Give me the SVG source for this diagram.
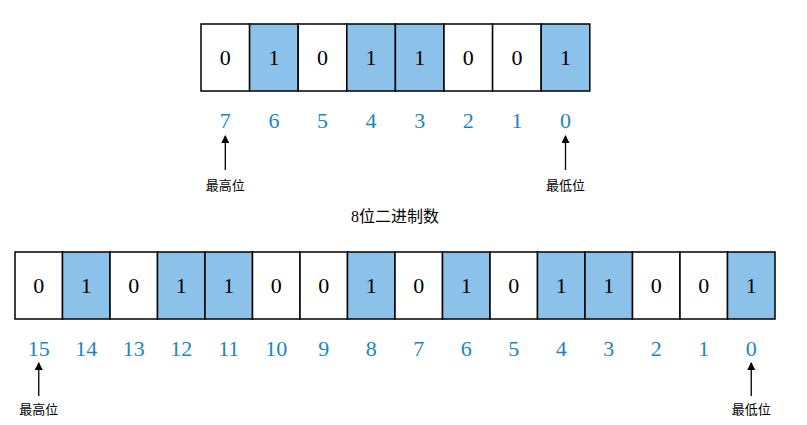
<svg xmlns="http://www.w3.org/2000/svg" width="807" height="425" viewBox="0 0 807 425">
<style>
.w{fill:#fff;stroke:#000;stroke-width:1.5}
.b{fill:#8cc2ea;stroke:#000;stroke-width:1.5}
.d{font-family:"Liberation Serif","DejaVu Serif",serif;font-size:22px;text-anchor:middle}
.i{font-family:"Liberation Serif","DejaVu Serif",serif;font-size:22px;text-anchor:middle;fill:#1a85c8}
.l{font-family:"Noto Sans CJK SC",sans-serif;font-size:13px;text-anchor:middle}
.t{font-family:"Liberation Serif","Noto Sans CJK SC",serif;font-size:16px;text-anchor:middle}
.a{stroke:#000;stroke-width:1.3;marker-end:url(#m)}
</style>
<defs><marker id="m" markerWidth="8" markerHeight="8" refX="7" refY="4" orient="auto" markerUnits="userSpaceOnUse"><path d="M0,0L8,4L0,8z" fill="#000"/></marker></defs>
<g id="row8">
<rect class="w" x="201" y="24" width="48.6" height="67"/><text class="d" x="225.3" y="65">0</text>
<rect class="b" x="249.6" y="24" width="48.6" height="67"/><text class="d" x="273.9" y="65">1</text>
<rect class="w" x="298.2" y="24" width="48.6" height="67"/><text class="d" x="322.5" y="65">0</text>
<rect class="b" x="346.8" y="24" width="48.6" height="67"/><text class="d" x="371.1" y="65">1</text>
<rect class="b" x="395.4" y="24" width="48.6" height="67"/><text class="d" x="419.7" y="65">1</text>
<rect class="w" x="444" y="24" width="48.6" height="67"/><text class="d" x="468.3" y="65">0</text>
<rect class="w" x="492.6" y="24" width="48.6" height="67"/><text class="d" x="516.9" y="65">0</text>
<rect class="b" x="541.2" y="24" width="48.6" height="67"/><text class="d" x="565.5" y="65">1</text>
<text class="i" x="225.3" y="128">7</text><text class="i" x="273.9" y="128">6</text><text class="i" x="322.5" y="128">5</text><text class="i" x="371.1" y="128">4</text><text class="i" x="419.7" y="128">3</text><text class="i" x="468.3" y="128">2</text><text class="i" x="516.9" y="128">1</text><text class="i" x="565.5" y="128">0</text>
<text class="l" x="225.3" y="190">最高位</text><text class="l" x="565.5" y="190">最低位</text>
</g>
<text id="title" class="t" x="395" y="222">8位二进制数</text>
<g id="row16">
<rect class="w" x="15" y="252" width="47.5" height="67"/><text class="d" x="38.75" y="293">0</text>
<rect class="b" x="62.5" y="252" width="47.5" height="67"/><text class="d" x="86.25" y="293">1</text>
<rect class="w" x="110" y="252" width="47.5" height="67"/><text class="d" x="133.75" y="293">0</text>
<rect class="b" x="157.5" y="252" width="47.5" height="67"/><text class="d" x="181.25" y="293">1</text>
<rect class="b" x="205" y="252" width="47.5" height="67"/><text class="d" x="228.75" y="293">1</text>
<rect class="w" x="252.5" y="252" width="47.5" height="67"/><text class="d" x="276.25" y="293">0</text>
<rect class="w" x="300" y="252" width="47.5" height="67"/><text class="d" x="323.75" y="293">0</text>
<rect class="b" x="347.5" y="252" width="47.5" height="67"/><text class="d" x="371.25" y="293">1</text>
<rect class="w" x="395" y="252" width="47.5" height="67"/><text class="d" x="418.75" y="293">0</text>
<rect class="b" x="442.5" y="252" width="47.5" height="67"/><text class="d" x="466.25" y="293">1</text>
<rect class="w" x="490" y="252" width="47.5" height="67"/><text class="d" x="513.75" y="293">0</text>
<rect class="b" x="537.5" y="252" width="47.5" height="67"/><text class="d" x="561.25" y="293">1</text>
<rect class="b" x="585" y="252" width="47.5" height="67"/><text class="d" x="608.75" y="293">1</text>
<rect class="w" x="632.5" y="252" width="47.5" height="67"/><text class="d" x="656.25" y="293">0</text>
<rect class="w" x="680" y="252" width="47.5" height="67"/><text class="d" x="703.75" y="293">0</text>
<rect class="b" x="727.5" y="252" width="47.5" height="67"/><text class="d" x="751.25" y="293">1</text>
<text class="i" x="38.75" y="356">15</text><text class="i" x="86.25" y="356">14</text><text class="i" x="133.75" y="356">13</text><text class="i" x="181.25" y="356">12</text><text class="i" x="228.75" y="356">11</text><text class="i" x="276.25" y="356">10</text><text class="i" x="323.75" y="356">9</text><text class="i" x="371.25" y="356">8</text><text class="i" x="418.75" y="356">7</text><text class="i" x="466.25" y="356">6</text><text class="i" x="513.75" y="356">5</text><text class="i" x="561.25" y="356">4</text><text class="i" x="608.75" y="356">3</text><text class="i" x="656.25" y="356">2</text><text class="i" x="703.75" y="356">1</text><text class="i" x="751.25" y="356">0</text>
<text class="l" x="38.75" y="414">最高位</text><text class="l" x="751.25" y="414">最低位</text>
</g>
<g id="connectors">
<line class="a" x1="225.3" y1="170" x2="225.3" y2="136"/>
<line class="a" x1="565.5" y1="170" x2="565.5" y2="136"/>
<line class="a" x1="38.75" y1="396" x2="38.75" y2="363"/>
<line class="a" x1="751.25" y1="396" x2="751.25" y2="363"/>
</g>
</svg>
